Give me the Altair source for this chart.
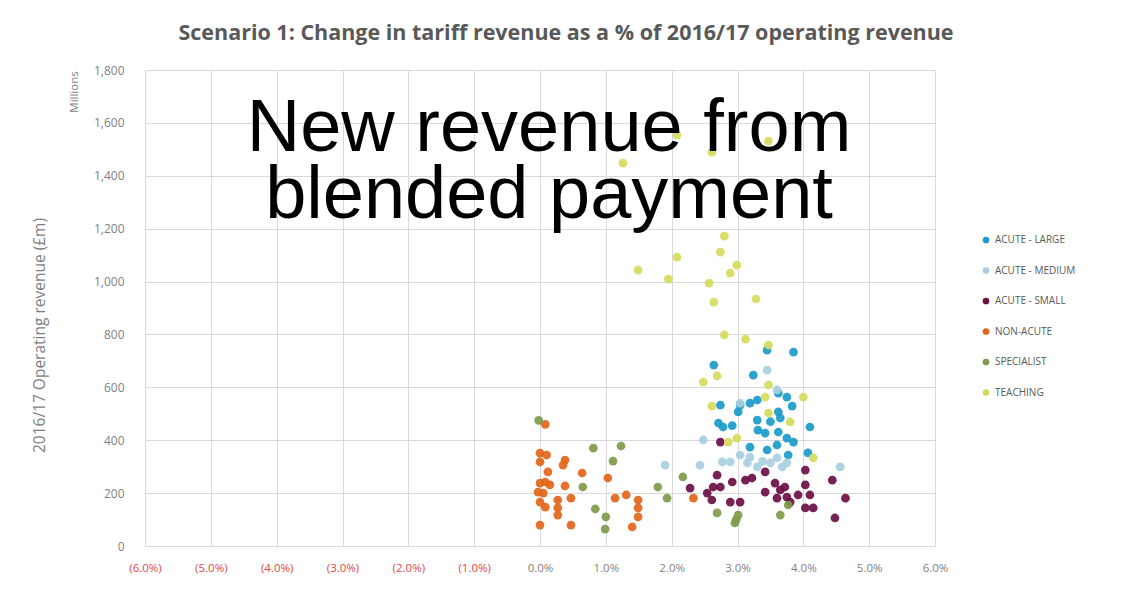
import altair as alt
import pandas as pd

categories = ["ACUTE - LARGE", "ACUTE - MEDIUM", "ACUTE - SMALL", "NON-ACUTE", "SPECIALIST", "TEACHING"]
colors = ["#1a9bc9", "#a9cfe2", "#6b0f45", "#e2661a", "#7e9a4a", "#d6db5e"]

large_x = [3.45, 3.85, 2.64, 3.24, 3.62, 3.75, 3.83, 3.30, 3.19, 3.04, 2.74, 3.01, 3.62, 3.65, 3.30,
           2.71, 2.78, 3.31, 3.42, 4.10, 3.62, 3.75, 3.85, 3.60, 3.19, 3.45, 3.77, 4.07, 2.92, 3.50]
large_y = [741, 733, 684, 646, 578, 563, 529, 552, 540, 533, 533, 507, 507, 484, 476,
           465, 450, 438, 427, 450, 431, 408, 393, 382, 374, 363, 344, 352, 455, 470]

medium_x = [3.45, 3.60, 2.48, 1.90, 2.43, 2.77, 2.89, 3.04, 3.15, 3.30, 3.50, 3.68, 3.75, 4.56, 3.19, 3.60, 3.04, 3.38]
medium_y = [665, 590, 401, 306, 306, 318, 318, 344, 314, 299, 314, 299, 314, 299, 336, 333, 540, 320]

small_x = [2.74, 2.69, 2.28, 2.54, 2.63, 2.74, 2.61, 2.89, 3.04, 2.92, 3.12, 3.22, 3.42, 3.42, 3.57,
           3.65, 3.72, 3.60, 3.75, 3.92, 4.03, 4.03, 4.10, 4.03, 4.15, 4.44, 4.64, 4.48, 3.80]
small_y = [393, 268, 219, 200, 223, 223, 174, 166, 166, 242, 249, 257, 280, 204, 238,
           212, 223, 181, 185, 193, 287, 231, 193, 144, 144, 249, 181, 106, 166]

nonacute_x = [0.00, 0.10, 0.00, 0.38, 0.35, 0.12, 0.64, 1.03, 0.00, 0.08, 0.15, 0.38, -0.03, 0.05, 0.47,
              0.27, 0.00, 0.08, 0.27, 0.27, 1.14, 1.31, 1.49, 1.49, 1.49, 1.40, 0.00, 0.47, 0.08, 2.33]
nonacute_y = [351, 344, 318, 325, 306, 280, 276, 257, 238, 242, 231, 227, 204, 200, 181,
              174, 166, 147, 144, 117, 181, 193, 174, 144, 110, 72, 79, 79, 460, 181]

specialist_x = [0.81, 1.23, 1.11, 0.65, 0.84, 1.00, 0.99, 1.79, 1.93, 2.17, 2.69, 3.01, 2.96, 3.77, 3.65, -0.02, 2.98]
specialist_y = [370, 378, 321, 223, 140, 110, 64, 223, 181, 261, 125, 117, 87, 155, 117, 475, 100]

teaching_x = [1.26, 2.08, 2.61, 3.47, 2.80, 2.74, 2.08, 2.99, 2.89, 1.49, 1.95, 2.57, 2.64, 3.28, 2.80,
              3.12, 3.47, 2.48, 2.69, 2.61, 3.47, 3.42, 4.00, 3.47, 3.80, 2.86, 2.99, 4.15]
teaching_y = [1448, 1554, 1489, 1531, 1172, 1111, 1092, 1062, 1032, 1043, 1009, 994, 922, 934, 798,
              782, 760, 620, 643, 529, 609, 563, 563, 503, 469, 393, 408, 333]

x_ticks = [-6, -5, -4, -3, -2, -1, 0, 1, 2, 3, 4, 5, 6]
y_ticks = [0, 200, 400, 600, 800, 1000, 1200, 1400, 1600, 1800]

title_text = "Scenario 1: Change in tariff revenue as a % of 2016/17 operating revenue"
y_title = "2016/17 Operating revenue (£m)"
units_text = "Millions"
overlay_text = "New revenue from\nblended payment"

series = [
    (categories[0], large_x, large_y),
    (categories[1], medium_x, medium_y),
    (categories[2], small_x, small_y),
    (categories[3], nonacute_x, nonacute_y),
    (categories[4], specialist_x, specialist_y),
    (categories[5], teaching_x, teaching_y),
]
rows = []
for cat, xs, ys in series:
    for xv, yv in zip(xs, ys):
        rows.append({"type": cat, "pct": xv, "rev": yv})
df = pd.DataFrame(rows)

FONT = "Open Sans"
GREY = "#7f7f7f"

points = alt.Chart(df).mark_circle(size=76, opacity=0.92).encode(
    x=alt.X("pct:Q",
            scale=alt.Scale(domain=[-6, 6], nice=False),
            axis=alt.Axis(values=x_ticks, title=None, ticks=False, domain=False, grid=True,
                          labelFlush=False, labelOverlap=False,
                          labelExpr="datum.value < 0 ? '(' + format(-datum.value, '.1f') + '%)' : format(datum.value, '.1f') + '%'",
                          labelColor={"condition": {"test": "datum.value < 0", "value": "#e04848"}, "value": GREY},
                          labelPadding=16, labelFontSize=11.5, labelFont=FONT)),
    y=alt.Y("rev:Q",
            scale=alt.Scale(domain=[0, 1800], nice=False),
            axis=alt.Axis(values=y_ticks, format=",.0f", title=y_title, ticks=False, domain=False, grid=True,
                          labelPadding=21, labelFontSize=12, labelFont=FONT, labelColor=GREY,
                          titleFont=FONT, titleFontSize=15.5, titleColor=GREY, titleFontWeight="normal",
                          titleX=-98, titleY=265)),
    color=alt.Color("type:N",
                    scale=alt.Scale(domain=categories, range=colors),
                    legend=alt.Legend(title=None, orient="none", legendX=836, legendY=165,
                                      symbolType="circle", symbolSize=45, symbolOpacity=1,
                                      labelFont=FONT, labelFontSize=10, labelColor="#595959",
                                      rowPadding=20.5, labelOffset=4)),
)

units = alt.Chart(pd.DataFrame({"t": [units_text]})).mark_text(
    angle=270, font=FONT, fontSize=11.5, color=GREY, align="center", baseline="middle"
).encode(x=alt.value(-70), y=alt.value(22), text="t:N")

overlay = alt.Chart(pd.DataFrame({"t": [overlay_text]})).mark_text(
    font="Liberation Sans", fontSize=74, color="black", align="center", baseline="alphabetic",
    lineBreak="\n", lineHeight=67
).encode(x=alt.value(404), y=alt.value(81), text="t:N")

chart = alt.layer(points, units, overlay).properties(
    width=790, height=476,
    title=alt.TitleParams(title_text, font=FONT, fontSize=21.5, fontWeight="bold", color="#595959",
                          anchor="middle", dx=26, offset=20),
    padding={"left": 137, "top": 62, "right": 180, "bottom": 30},
    autosize=alt.AutoSizeParams(type="none"),
    background="white",
).configure_view(stroke=None).configure_axis(gridColor="#d9d9d9", gridWidth=1)

chart.save("out.html", embed_options={"renderer": "svg", "actions": False})
